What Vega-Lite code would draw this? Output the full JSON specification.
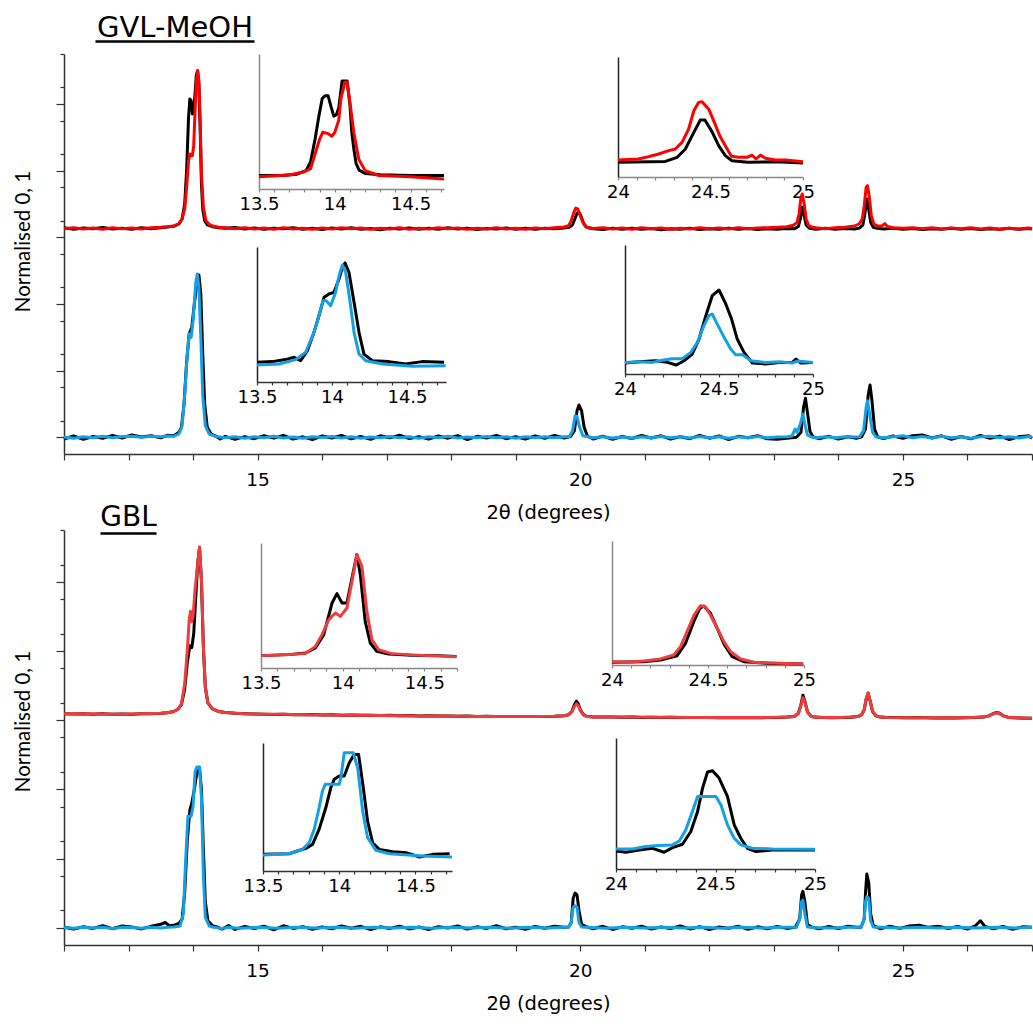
{
"$schema": "https://vega.github.io/schema/vega-lite/v6.json",
"background": "white",
"padding": {"left": 13, "top": 13, "right": 0, "bottom": 10},
"spacing": -19,
"config": {
 "view": {"stroke": null},
 "font": "DejaVu Sans",
 "line": {"strokeWidth": 3, "strokeJoin": "round"},
 "axis": {"grid": false, "domainColor": "#333", "tickColor": "#333", "labelColor": "#000", "titleColor": "#000", "titleFontWeight": "normal", "labelFlush": false, "labelOverlap": false, "domainWidth": 1.5, "tickWidth": 1.2}
},
"datasets": {
 "gA_k": [{"x":12.0,"y":1.258},{"x":12.15,"y":1.249},{"x":12.3,"y":1.256},{"x":12.45,"y":1.251},{"x":12.6,"y":1.259},{"x":12.75,"y":1.25},{"x":12.9,"y":1.255},{"x":13.05,"y":1.248},{"x":13.2,"y":1.257},{"x":13.35,"y":1.252},{"x":13.5,"y":1.258},{"x":13.6,"y":1.262},{"x":13.7,"y":1.266},{"x":13.78,"y":1.28},{"x":13.83,"y":1.31},{"x":13.87,"y":1.4},{"x":13.9,"y":1.6},{"x":13.93,"y":1.92},{"x":13.95,"y":2.03},{"x":13.97,"y":2.02},{"x":13.99,"y":1.94},{"x":14.01,"y":1.96},{"x":14.03,"y":2.06},{"x":14.05,"y":2.17},{"x":14.07,"y":2.2},{"x":14.09,"y":2.12},{"x":14.11,"y":1.85},{"x":14.13,"y":1.52},{"x":14.15,"y":1.37},{"x":14.18,"y":1.3},{"x":14.22,"y":1.275},{"x":14.3,"y":1.264},{"x":14.4,"y":1.258},{"x":14.5,"y":1.254},{"x":14.65,"y":1.259},{"x":14.8,"y":1.25},{"x":14.95,"y":1.256},{"x":15.1,"y":1.248},{"x":15.25,"y":1.255},{"x":15.4,"y":1.251},{"x":15.55,"y":1.258},{"x":15.7,"y":1.249},{"x":15.85,"y":1.254},{"x":16.0,"y":1.247},{"x":16.15,"y":1.256},{"x":16.3,"y":1.25},{"x":16.45,"y":1.257},{"x":16.6,"y":1.249},{"x":16.75,"y":1.253},{"x":16.9,"y":1.246},{"x":17.05,"y":1.255},{"x":17.2,"y":1.25},{"x":17.35,"y":1.256},{"x":17.5,"y":1.248},{"x":17.65,"y":1.254},{"x":17.8,"y":1.249},{"x":17.95,"y":1.257},{"x":18.1,"y":1.25},{"x":18.25,"y":1.255},{"x":18.4,"y":1.247},{"x":18.55,"y":1.253},{"x":18.7,"y":1.25},{"x":18.85,"y":1.256},{"x":19.0,"y":1.249},{"x":19.15,"y":1.254},{"x":19.3,"y":1.248},{"x":19.45,"y":1.255},{"x":19.6,"y":1.251},{"x":19.75,"y":1.256},{"x":19.83,"y":1.26},{"x":19.88,"y":1.275},{"x":19.92,"y":1.315},{"x":19.95,"y":1.345},{"x":19.98,"y":1.35},{"x":20.01,"y":1.33},{"x":20.05,"y":1.285},{"x":20.1,"y":1.26},{"x":20.2,"y":1.252},{"x":20.35,"y":1.247},{"x":20.5,"y":1.254},{"x":20.65,"y":1.249},{"x":20.8,"y":1.255},{"x":20.95,"y":1.248},{"x":21.1,"y":1.253},{"x":21.25,"y":1.246},{"x":21.4,"y":1.252},{"x":21.55,"y":1.249},{"x":21.7,"y":1.255},{"x":21.85,"y":1.247},{"x":22.0,"y":1.252},{"x":22.15,"y":1.248},{"x":22.3,"y":1.254},{"x":22.45,"y":1.249},{"x":22.6,"y":1.253},{"x":22.75,"y":1.247},{"x":22.9,"y":1.252},{"x":23.05,"y":1.248},{"x":23.2,"y":1.253},{"x":23.32,"y":1.252},{"x":23.38,"y":1.265},{"x":23.41,"y":1.31},{"x":23.44,"y":1.38},{"x":23.47,"y":1.33},{"x":23.5,"y":1.275},{"x":23.55,"y":1.255},{"x":23.65,"y":1.249},{"x":23.8,"y":1.254},{"x":23.95,"y":1.248},{"x":24.1,"y":1.253},{"x":24.25,"y":1.25},{"x":24.33,"y":1.256},{"x":24.38,"y":1.275},{"x":24.41,"y":1.34},{"x":24.44,"y":1.43},{"x":24.47,"y":1.37},{"x":24.5,"y":1.29},{"x":24.54,"y":1.26},{"x":24.6,"y":1.254},{"x":24.7,"y":1.25},{"x":24.85,"y":1.255},{"x":25.0,"y":1.248},{"x":25.15,"y":1.253},{"x":25.3,"y":1.247},{"x":25.45,"y":1.252},{"x":25.6,"y":1.249},{"x":25.75,"y":1.254},{"x":25.9,"y":1.248},{"x":26.05,"y":1.253},{"x":26.2,"y":1.247},{"x":26.35,"y":1.252},{"x":26.5,"y":1.249},{"x":26.65,"y":1.254},{"x":26.8,"y":1.248},{"x":26.95,"y":1.253},{"x":27.0,"y":1.25}],
 "gA_r": [{"x":12.0,"y":1.252},{"x":12.15,"y":1.258},{"x":12.3,"y":1.25},{"x":12.45,"y":1.256},{"x":12.6,"y":1.249},{"x":12.75,"y":1.257},{"x":12.9,"y":1.251},{"x":13.05,"y":1.256},{"x":13.2,"y":1.25},{"x":13.35,"y":1.258},{"x":13.5,"y":1.26},{"x":13.6,"y":1.263},{"x":13.7,"y":1.268},{"x":13.78,"y":1.283},{"x":13.83,"y":1.31},{"x":13.87,"y":1.37},{"x":13.9,"y":1.5},{"x":13.93,"y":1.66},{"x":13.95,"y":1.7},{"x":13.97,"y":1.69},{"x":13.99,"y":1.69},{"x":14.01,"y":1.75},{"x":14.03,"y":1.95},{"x":14.05,"y":2.13},{"x":14.07,"y":2.2},{"x":14.09,"y":2.14},{"x":14.11,"y":1.9},{"x":14.13,"y":1.58},{"x":14.16,"y":1.38},{"x":14.2,"y":1.3},{"x":14.25,"y":1.277},{"x":14.32,"y":1.266},{"x":14.4,"y":1.26},{"x":14.5,"y":1.257},{"x":14.65,"y":1.251},{"x":14.8,"y":1.258},{"x":14.95,"y":1.25},{"x":15.1,"y":1.256},{"x":15.25,"y":1.249},{"x":15.4,"y":1.257},{"x":15.55,"y":1.25},{"x":15.7,"y":1.255},{"x":15.85,"y":1.248},{"x":16.0,"y":1.256},{"x":16.15,"y":1.25},{"x":16.3,"y":1.257},{"x":16.45,"y":1.251},{"x":16.6,"y":1.256},{"x":16.75,"y":1.248},{"x":16.9,"y":1.255},{"x":17.05,"y":1.25},{"x":17.2,"y":1.257},{"x":17.35,"y":1.249},{"x":17.5,"y":1.255},{"x":17.65,"y":1.25},{"x":17.8,"y":1.257},{"x":17.95,"y":1.251},{"x":18.1,"y":1.256},{"x":18.25,"y":1.249},{"x":18.4,"y":1.255},{"x":18.55,"y":1.25},{"x":18.7,"y":1.257},{"x":18.85,"y":1.25},{"x":19.0,"y":1.255},{"x":19.15,"y":1.249},{"x":19.3,"y":1.256},{"x":19.45,"y":1.251},{"x":19.6,"y":1.257},{"x":19.75,"y":1.262},{"x":19.82,"y":1.27},{"x":19.86,"y":1.3},{"x":19.9,"y":1.35},{"x":19.93,"y":1.375},{"x":19.96,"y":1.37},{"x":20.0,"y":1.33},{"x":20.04,"y":1.29},{"x":20.08,"y":1.265},{"x":20.13,"y":1.257},{"x":20.2,"y":1.253},{"x":20.35,"y":1.258},{"x":20.5,"y":1.25},{"x":20.65,"y":1.256},{"x":20.8,"y":1.249},{"x":20.95,"y":1.257},{"x":21.1,"y":1.251},{"x":21.25,"y":1.256},{"x":21.4,"y":1.249},{"x":21.55,"y":1.255},{"x":21.7,"y":1.25},{"x":21.85,"y":1.257},{"x":22.0,"y":1.251},{"x":22.15,"y":1.256},{"x":22.3,"y":1.25},{"x":22.45,"y":1.257},{"x":22.6,"y":1.252},{"x":22.75,"y":1.256},{"x":22.9,"y":1.258},{"x":23.05,"y":1.26},{"x":23.2,"y":1.264},{"x":23.3,"y":1.272},{"x":23.36,"y":1.29},{"x":23.39,"y":1.34},{"x":23.42,"y":1.44},{"x":23.44,"y":1.46},{"x":23.47,"y":1.4},{"x":23.5,"y":1.31},{"x":23.54,"y":1.27},{"x":23.6,"y":1.26},{"x":23.65,"y":1.257},{"x":23.8,"y":1.252},{"x":23.95,"y":1.257},{"x":24.1,"y":1.26},{"x":24.25,"y":1.268},{"x":24.32,"y":1.28},{"x":24.37,"y":1.31},{"x":24.4,"y":1.39},{"x":24.43,"y":1.5},{"x":24.45,"y":1.51},{"x":24.48,"y":1.44},{"x":24.51,"y":1.33},{"x":24.55,"y":1.28},{"x":24.62,"y":1.266},{"x":24.68,"y":1.27},{"x":24.72,"y":1.282},{"x":24.76,"y":1.265},{"x":24.85,"y":1.258},{"x":25.0,"y":1.255},{"x":25.15,"y":1.258},{"x":25.3,"y":1.252},{"x":25.45,"y":1.257},{"x":25.6,"y":1.25},{"x":25.75,"y":1.256},{"x":25.9,"y":1.251},{"x":26.05,"y":1.257},{"x":26.2,"y":1.25},{"x":26.35,"y":1.256},{"x":26.5,"y":1.249},{"x":26.65,"y":1.255},{"x":26.8,"y":1.25},{"x":26.95,"y":1.256},{"x":27.0,"y":1.252}],
 "gB_k": [{"x":12.0,"y":-0.01},{"x":12.15,"y":0.008},{"x":12.3,"y":-0.012},{"x":12.45,"y":0.005},{"x":12.6,"y":-0.006},{"x":12.75,"y":0.012},{"x":12.9,"y":-0.004},{"x":13.05,"y":0.014},{"x":13.2,"y":0.002},{"x":13.35,"y":0.01},{"x":13.5,"y":-0.003},{"x":13.6,"y":0.012},{"x":13.7,"y":0.01},{"x":13.78,"y":0.03},{"x":13.82,"y":0.06},{"x":13.86,"y":0.2},{"x":13.9,"y":0.45},{"x":13.94,"y":0.62},{"x":13.98,"y":0.66},{"x":14.02,"y":0.8},{"x":14.06,"y":0.93},{"x":14.09,"y":0.975},{"x":14.12,"y":0.86},{"x":14.15,"y":0.5},{"x":14.18,"y":0.2},{"x":14.22,"y":0.06},{"x":14.28,"y":0.02},{"x":14.35,"y":0.008},{"x":14.42,"y":-0.01},{"x":14.5,"y":0.006},{"x":14.65,"y":-0.012},{"x":14.8,"y":0.004},{"x":14.95,"y":-0.008},{"x":15.1,"y":0.01},{"x":15.25,"y":-0.005},{"x":15.4,"y":0.012},{"x":15.55,"y":-0.01},{"x":15.7,"y":0.003},{"x":15.85,"y":-0.014},{"x":16.0,"y":0.008},{"x":16.15,"y":-0.004},{"x":16.3,"y":0.011},{"x":16.45,"y":-0.009},{"x":16.6,"y":0.005},{"x":16.75,"y":-0.012},{"x":16.9,"y":0.009},{"x":17.05,"y":-0.003},{"x":17.2,"y":0.013},{"x":17.35,"y":-0.007},{"x":17.5,"y":0.004},{"x":17.65,"y":-0.011},{"x":17.8,"y":0.008},{"x":17.95,"y":-0.005},{"x":18.1,"y":0.01},{"x":18.25,"y":-0.013},{"x":18.4,"y":0.006},{"x":18.55,"y":-0.004},{"x":18.7,"y":0.012},{"x":18.85,"y":-0.008},{"x":19.0,"y":0.003},{"x":19.15,"y":-0.01},{"x":19.3,"y":0.009},{"x":19.45,"y":-0.006},{"x":19.6,"y":0.011},{"x":19.75,"y":-0.004},{"x":19.85,"y":0.005},{"x":19.91,"y":0.04},{"x":19.95,"y":0.16},{"x":19.98,"y":0.194},{"x":20.02,"y":0.16},{"x":20.06,"y":0.06},{"x":20.11,"y":0.008},{"x":20.2,"y":-0.01},{"x":20.35,"y":0.007},{"x":20.5,"y":-0.012},{"x":20.65,"y":0.005},{"x":20.8,"y":-0.007},{"x":20.95,"y":0.011},{"x":21.1,"y":-0.004},{"x":21.25,"y":0.009},{"x":21.4,"y":-0.011},{"x":21.55,"y":0.004},{"x":21.7,"y":-0.008},{"x":21.85,"y":0.012},{"x":22.0,"y":-0.005},{"x":22.15,"y":0.008},{"x":22.3,"y":-0.013},{"x":22.45,"y":0.006},{"x":22.6,"y":-0.003},{"x":22.75,"y":0.01},{"x":22.9,"y":-0.009},{"x":23.05,"y":-0.012},{"x":23.2,"y":-0.006},{"x":23.35,"y":0.0},{"x":23.42,"y":0.03},{"x":23.46,"y":0.18},{"x":23.49,"y":0.234},{"x":23.52,"y":0.15},{"x":23.56,"y":0.035},{"x":23.61,"y":0.002},{"x":23.7,"y":-0.008},{"x":23.85,"y":0.006},{"x":24.0,"y":-0.01},{"x":24.15,"y":0.004},{"x":24.28,"y":-0.006},{"x":24.36,"y":0.003},{"x":24.42,"y":0.05},{"x":24.46,"y":0.25},{"x":24.49,"y":0.314},{"x":24.52,"y":0.22},{"x":24.56,"y":0.05},{"x":24.61,"y":0.002},{"x":24.7,"y":-0.007},{"x":24.85,"y":0.008},{"x":25.0,"y":-0.006},{"x":25.15,"y":0.01},{"x":25.3,"y":0.014},{"x":25.45,"y":-0.004},{"x":25.6,"y":0.009},{"x":25.75,"y":-0.012},{"x":25.9,"y":0.005},{"x":26.05,"y":-0.009},{"x":26.2,"y":0.011},{"x":26.35,"y":-0.006},{"x":26.5,"y":0.007},{"x":26.65,"y":-0.013},{"x":26.8,"y":0.004},{"x":26.95,"y":0.009},{"x":27.0,"y":-0.005}],
 "gB_b": [{"x":12.0,"y":0.002},{"x":12.15,"y":-0.005},{"x":12.3,"y":0.004},{"x":12.45,"y":-0.003},{"x":12.6,"y":0.006},{"x":12.75,"y":-0.002},{"x":12.9,"y":0.005},{"x":13.05,"y":0.007},{"x":13.2,"y":0.001},{"x":13.35,"y":0.006},{"x":13.5,"y":0.003},{"x":13.6,"y":0.008},{"x":13.7,"y":0.006},{"x":13.78,"y":0.02},{"x":13.83,"y":0.07},{"x":13.87,"y":0.25},{"x":13.91,"y":0.5},{"x":13.94,"y":0.62},{"x":13.97,"y":0.6},{"x":14.0,"y":0.7},{"x":14.04,"y":0.92},{"x":14.065,"y":0.98},{"x":14.09,"y":0.9},{"x":14.12,"y":0.6},{"x":14.15,"y":0.25},{"x":14.19,"y":0.07},{"x":14.25,"y":0.02},{"x":14.35,"y":0.005},{"x":14.5,"y":-0.003},{"x":14.65,"y":0.004},{"x":14.8,"y":-0.005},{"x":14.95,"y":0.003},{"x":15.1,"y":-0.002},{"x":15.25,"y":0.006},{"x":15.4,"y":-0.004},{"x":15.55,"y":0.002},{"x":15.7,"y":-0.006},{"x":15.85,"y":0.004},{"x":16.0,"y":-0.001},{"x":16.15,"y":0.005},{"x":16.3,"y":-0.004},{"x":16.45,"y":0.003},{"x":16.6,"y":-0.005},{"x":16.75,"y":0.002},{"x":16.9,"y":-0.003},{"x":17.05,"y":0.005},{"x":17.2,"y":-0.002},{"x":17.35,"y":0.004},{"x":17.5,"y":-0.005},{"x":17.65,"y":0.003},{"x":17.8,"y":-0.002},{"x":17.95,"y":0.006},{"x":18.1,"y":-0.004},{"x":18.25,"y":0.002},{"x":18.4,"y":-0.003},{"x":18.55,"y":0.005},{"x":18.7,"y":-0.002},{"x":18.85,"y":0.004},{"x":19.0,"y":-0.005},{"x":19.15,"y":0.003},{"x":19.3,"y":-0.002},{"x":19.45,"y":0.004},{"x":19.6,"y":-0.003},{"x":19.75,"y":0.003},{"x":19.83,"y":0.004},{"x":19.88,"y":0.04},{"x":19.92,"y":0.13},{"x":19.95,"y":0.125},{"x":19.99,"y":0.06},{"x":20.04,"y":0.01},{"x":20.2,"y":-0.003},{"x":20.35,"y":0.004},{"x":20.5,"y":-0.004},{"x":20.65,"y":0.002},{"x":20.8,"y":-0.005},{"x":20.95,"y":0.004},{"x":21.1,"y":-0.002},{"x":21.25,"y":0.005},{"x":21.4,"y":-0.003},{"x":21.55,"y":0.003},{"x":21.7,"y":-0.004},{"x":21.85,"y":0.005},{"x":22.0,"y":-0.002},{"x":22.15,"y":0.004},{"x":22.3,"y":-0.005},{"x":22.45,"y":0.003},{"x":22.6,"y":-0.002},{"x":22.75,"y":0.005},{"x":22.9,"y":-0.003},{"x":23.05,"y":0.002},{"x":23.2,"y":0.004},{"x":23.28,"y":0.008},{"x":23.33,"y":0.05},{"x":23.36,"y":0.03},{"x":23.41,"y":0.08},{"x":23.45,"y":0.14},{"x":23.48,"y":0.08},{"x":23.52,"y":0.015},{"x":23.58,"y":0.002},{"x":23.65,"y":-0.003},{"x":23.8,"y":0.004},{"x":23.95,"y":-0.002},{"x":24.1,"y":0.003},{"x":24.25,"y":0.002},{"x":24.33,"y":0.004},{"x":24.39,"y":0.04},{"x":24.43,"y":0.18},{"x":24.45,"y":0.22},{"x":24.48,"y":0.15},{"x":24.53,"y":0.03},{"x":24.58,"y":0.004},{"x":24.7,"y":-0.003},{"x":24.85,"y":0.004},{"x":25.0,"y":0.009},{"x":25.15,"y":-0.002},{"x":25.3,"y":0.005},{"x":25.45,"y":-0.004},{"x":25.6,"y":0.006},{"x":25.75,"y":-0.003},{"x":25.9,"y":0.004},{"x":26.05,"y":-0.005},{"x":26.2,"y":0.003},{"x":26.35,"y":0.007},{"x":26.5,"y":-0.002},{"x":26.65,"y":0.004},{"x":26.8,"y":-0.004},{"x":26.95,"y":0.005},{"x":27.0,"y":0.002}],
 "bA_k": [{"x":12.0,"y":1.238},{"x":12.15,"y":1.236},{"x":12.3,"y":1.238},{"x":12.45,"y":1.235},{"x":12.6,"y":1.237},{"x":12.75,"y":1.234},{"x":12.9,"y":1.236},{"x":13.05,"y":1.235},{"x":13.2,"y":1.237},{"x":13.35,"y":1.238},{"x":13.5,"y":1.24},{"x":13.6,"y":1.243},{"x":13.7,"y":1.25},{"x":13.77,"y":1.265},{"x":13.82,"y":1.29},{"x":13.87,"y":1.38},{"x":13.91,"y":1.53},{"x":13.95,"y":1.63},{"x":13.98,"y":1.62},{"x":14.01,"y":1.7},{"x":14.04,"y":1.9},{"x":14.07,"y":2.1},{"x":14.1,"y":2.2},{"x":14.13,"y":2.0},{"x":14.16,"y":1.62},{"x":14.19,"y":1.39},{"x":14.23,"y":1.3},{"x":14.3,"y":1.265},{"x":14.4,"y":1.25},{"x":14.5,"y":1.244},{"x":14.65,"y":1.24},{"x":14.8,"y":1.238},{"x":14.95,"y":1.236},{"x":15.1,"y":1.235},{"x":15.25,"y":1.233},{"x":15.4,"y":1.234},{"x":15.55,"y":1.232},{"x":15.7,"y":1.231},{"x":15.85,"y":1.233},{"x":16.0,"y":1.23},{"x":16.15,"y":1.231},{"x":16.3,"y":1.229},{"x":16.45,"y":1.23},{"x":16.6,"y":1.228},{"x":16.75,"y":1.229},{"x":16.9,"y":1.227},{"x":17.05,"y":1.228},{"x":17.2,"y":1.226},{"x":17.35,"y":1.227},{"x":17.5,"y":1.225},{"x":17.65,"y":1.226},{"x":17.8,"y":1.224},{"x":17.95,"y":1.225},{"x":18.1,"y":1.223},{"x":18.25,"y":1.224},{"x":18.4,"y":1.222},{"x":18.55,"y":1.223},{"x":18.7,"y":1.221},{"x":18.85,"y":1.222},{"x":19.0,"y":1.221},{"x":19.15,"y":1.222},{"x":19.3,"y":1.221},{"x":19.45,"y":1.222},{"x":19.6,"y":1.223},{"x":19.75,"y":1.226},{"x":19.82,"y":1.232},{"x":19.87,"y":1.25},{"x":19.91,"y":1.29},{"x":19.94,"y":1.31},{"x":19.97,"y":1.295},{"x":20.0,"y":1.26},{"x":20.05,"y":1.232},{"x":20.1,"y":1.223},{"x":20.2,"y":1.219},{"x":20.35,"y":1.218},{"x":20.5,"y":1.219},{"x":20.65,"y":1.217},{"x":20.8,"y":1.218},{"x":20.95,"y":1.216},{"x":21.1,"y":1.217},{"x":21.25,"y":1.216},{"x":21.4,"y":1.217},{"x":21.55,"y":1.215},{"x":21.7,"y":1.216},{"x":21.85,"y":1.215},{"x":22.0,"y":1.216},{"x":22.15,"y":1.214},{"x":22.3,"y":1.215},{"x":22.45,"y":1.214},{"x":22.6,"y":1.215},{"x":22.75,"y":1.214},{"x":22.9,"y":1.215},{"x":23.05,"y":1.216},{"x":23.2,"y":1.218},{"x":23.32,"y":1.222},{"x":23.38,"y":1.24},{"x":23.42,"y":1.29},{"x":23.45,"y":1.344},{"x":23.48,"y":1.31},{"x":23.52,"y":1.25},{"x":23.57,"y":1.225},{"x":23.62,"y":1.218},{"x":23.75,"y":1.215},{"x":23.9,"y":1.214},{"x":24.05,"y":1.215},{"x":24.2,"y":1.217},{"x":24.3,"y":1.221},{"x":24.36,"y":1.232},{"x":24.4,"y":1.26},{"x":24.43,"y":1.32},{"x":24.46,"y":1.357},{"x":24.49,"y":1.315},{"x":24.53,"y":1.25},{"x":24.58,"y":1.225},{"x":24.65,"y":1.218},{"x":24.75,"y":1.216},{"x":24.9,"y":1.215},{"x":25.05,"y":1.214},{"x":25.2,"y":1.215},{"x":25.35,"y":1.214},{"x":25.5,"y":1.213},{"x":25.65,"y":1.214},{"x":25.8,"y":1.213},{"x":25.95,"y":1.214},{"x":26.1,"y":1.215},{"x":26.25,"y":1.218},{"x":26.33,"y":1.225},{"x":26.4,"y":1.238},{"x":26.45,"y":1.245},{"x":26.5,"y":1.24},{"x":26.56,"y":1.225},{"x":26.65,"y":1.215},{"x":26.8,"y":1.213},{"x":26.95,"y":1.212},{"x":27.0,"y":1.212}],
 "bA_r": [{"x":12.0,"y":1.238},{"x":12.3,"y":1.237},{"x":12.6,"y":1.236},{"x":12.9,"y":1.235},{"x":13.2,"y":1.237},{"x":13.5,"y":1.24},{"x":13.6,"y":1.243},{"x":13.7,"y":1.25},{"x":13.77,"y":1.265},{"x":13.82,"y":1.295},{"x":13.87,"y":1.41},{"x":13.91,"y":1.6},{"x":13.94,"y":1.78},{"x":13.96,"y":1.83},{"x":13.98,"y":1.77},{"x":14.0,"y":1.8},{"x":14.03,"y":1.95},{"x":14.07,"y":2.1},{"x":14.1,"y":2.2},{"x":14.13,"y":2.02},{"x":14.16,"y":1.63},{"x":14.19,"y":1.39},{"x":14.23,"y":1.3},{"x":14.3,"y":1.265},{"x":14.4,"y":1.25},{"x":14.5,"y":1.244},{"x":14.8,"y":1.238},{"x":15.1,"y":1.235},{"x":15.4,"y":1.234},{"x":15.7,"y":1.231},{"x":16.0,"y":1.23},{"x":16.3,"y":1.229},{"x":16.6,"y":1.228},{"x":16.9,"y":1.227},{"x":17.2,"y":1.226},{"x":17.5,"y":1.225},{"x":17.8,"y":1.224},{"x":18.1,"y":1.223},{"x":18.4,"y":1.222},{"x":18.7,"y":1.221},{"x":19.0,"y":1.221},{"x":19.3,"y":1.221},{"x":19.6,"y":1.223},{"x":19.75,"y":1.226},{"x":19.82,"y":1.232},{"x":19.87,"y":1.25},{"x":19.91,"y":1.28},{"x":19.94,"y":1.295},{"x":19.97,"y":1.285},{"x":20.0,"y":1.255},{"x":20.05,"y":1.23},{"x":20.1,"y":1.222},{"x":20.2,"y":1.219},{"x":20.5,"y":1.218},{"x":20.8,"y":1.218},{"x":21.1,"y":1.217},{"x":21.4,"y":1.217},{"x":21.7,"y":1.216},{"x":22.0,"y":1.216},{"x":22.3,"y":1.215},{"x":22.6,"y":1.215},{"x":22.9,"y":1.215},{"x":23.2,"y":1.218},{"x":23.32,"y":1.222},{"x":23.38,"y":1.24},{"x":23.42,"y":1.285},{"x":23.45,"y":1.33},{"x":23.48,"y":1.305},{"x":23.52,"y":1.25},{"x":23.57,"y":1.225},{"x":23.62,"y":1.218},{"x":23.75,"y":1.215},{"x":24.05,"y":1.215},{"x":24.3,"y":1.221},{"x":24.36,"y":1.232},{"x":24.4,"y":1.262},{"x":24.43,"y":1.325},{"x":24.46,"y":1.357},{"x":24.49,"y":1.315},{"x":24.53,"y":1.252},{"x":24.58,"y":1.226},{"x":24.65,"y":1.218},{"x":24.75,"y":1.216},{"x":25.05,"y":1.214},{"x":25.35,"y":1.214},{"x":25.65,"y":1.214},{"x":25.95,"y":1.214},{"x":26.25,"y":1.218},{"x":26.33,"y":1.225},{"x":26.4,"y":1.236},{"x":26.45,"y":1.243},{"x":26.5,"y":1.238},{"x":26.56,"y":1.224},{"x":26.65,"y":1.215},{"x":26.95,"y":1.212},{"x":27.0,"y":1.212}],
 "bB_k": [{"x":12.0,"y":0.003},{"x":12.15,"y":-0.008},{"x":12.3,"y":0.006},{"x":12.45,"y":-0.004},{"x":12.6,"y":0.012},{"x":12.75,"y":-0.006},{"x":12.9,"y":0.01},{"x":13.05,"y":0.004},{"x":13.2,"y":-0.007},{"x":13.35,"y":0.008},{"x":13.5,"y":0.02},{"x":13.57,"y":0.03},{"x":13.63,"y":0.012},{"x":13.7,"y":0.014},{"x":13.78,"y":0.025},{"x":13.83,"y":0.05},{"x":13.87,"y":0.2},{"x":13.91,"y":0.5},{"x":13.95,"y":0.68},{"x":13.98,"y":0.72},{"x":14.02,"y":0.8},{"x":14.06,"y":0.9},{"x":14.1,"y":0.92},{"x":14.13,"y":0.8},{"x":14.16,"y":0.45},{"x":14.19,"y":0.15},{"x":14.23,"y":0.04},{"x":14.3,"y":0.012},{"x":14.37,"y":0.005},{"x":14.45,"y":-0.008},{"x":14.55,"y":0.012},{"x":14.65,"y":-0.01},{"x":14.8,"y":0.007},{"x":14.95,"y":-0.005},{"x":15.1,"y":0.009},{"x":15.25,"y":-0.012},{"x":15.4,"y":0.011},{"x":15.55,"y":-0.004},{"x":15.7,"y":0.006},{"x":15.85,"y":-0.009},{"x":16.0,"y":0.004},{"x":16.15,"y":-0.006},{"x":16.3,"y":0.01},{"x":16.45,"y":-0.003},{"x":16.6,"y":0.008},{"x":16.75,"y":-0.011},{"x":16.9,"y":0.005},{"x":17.05,"y":-0.004},{"x":17.2,"y":0.009},{"x":17.35,"y":-0.007},{"x":17.5,"y":0.004},{"x":17.65,"y":-0.01},{"x":17.8,"y":0.006},{"x":17.95,"y":-0.002},{"x":18.1,"y":0.01},{"x":18.25,"y":-0.008},{"x":18.4,"y":0.005},{"x":18.55,"y":-0.004},{"x":18.7,"y":0.011},{"x":18.85,"y":-0.006},{"x":19.0,"y":0.003},{"x":19.15,"y":-0.009},{"x":19.3,"y":0.007},{"x":19.45,"y":-0.003},{"x":19.6,"y":0.009},{"x":19.75,"y":0.002},{"x":19.82,"y":0.004},{"x":19.86,"y":0.03},{"x":19.89,"y":0.17},{"x":19.92,"y":0.2},{"x":19.95,"y":0.19},{"x":19.98,"y":0.1},{"x":20.02,"y":0.02},{"x":20.08,"y":0.008},{"x":20.2,"y":-0.006},{"x":20.35,"y":0.008},{"x":20.5,"y":-0.01},{"x":20.65,"y":0.005},{"x":20.8,"y":-0.003},{"x":20.95,"y":0.009},{"x":21.1,"y":-0.008},{"x":21.25,"y":0.004},{"x":21.4,"y":-0.005},{"x":21.55,"y":0.01},{"x":21.7,"y":-0.007},{"x":21.85,"y":0.006},{"x":22.0,"y":-0.011},{"x":22.15,"y":0.004},{"x":22.3,"y":-0.003},{"x":22.45,"y":0.008},{"x":22.6,"y":-0.009},{"x":22.75,"y":0.005},{"x":22.9,"y":-0.006},{"x":23.05,"y":0.007},{"x":23.2,"y":-0.004},{"x":23.33,"y":0.002},{"x":23.4,"y":0.05},{"x":23.43,"y":0.19},{"x":23.45,"y":0.21},{"x":23.48,"y":0.15},{"x":23.52,"y":0.02},{"x":23.58,"y":0.004},{"x":23.7,"y":-0.006},{"x":23.85,"y":0.007},{"x":24.0,"y":-0.005},{"x":24.15,"y":0.008},{"x":24.28,"y":0.002},{"x":24.35,"y":0.003},{"x":24.4,"y":0.05},{"x":24.42,"y":0.2},{"x":24.44,"y":0.31},{"x":24.47,"y":0.26},{"x":24.5,"y":0.08},{"x":24.54,"y":0.012},{"x":24.65,"y":-0.006},{"x":24.8,"y":0.008},{"x":24.95,"y":-0.004},{"x":25.1,"y":0.01},{"x":25.25,"y":0.014},{"x":25.4,"y":0.002},{"x":25.55,"y":0.009},{"x":25.7,"y":-0.005},{"x":25.85,"y":0.007},{"x":26.0,"y":-0.008},{"x":26.12,"y":0.01},{"x":26.2,"y":0.04},{"x":26.27,"y":0.008},{"x":26.4,"y":-0.006},{"x":26.55,"y":0.007},{"x":26.7,"y":-0.009},{"x":26.85,"y":0.005},{"x":27.0,"y":0.003}],
 "bB_b": [{"x":12.0,"y":0.001},{"x":12.15,"y":-0.003},{"x":12.3,"y":0.002},{"x":12.45,"y":-0.002},{"x":12.6,"y":0.003},{"x":12.75,"y":-0.004},{"x":12.9,"y":0.002},{"x":13.05,"y":0.001},{"x":13.2,"y":-0.003},{"x":13.35,"y":0.002},{"x":13.5,"y":-0.002},{"x":13.6,"y":0.002},{"x":13.7,"y":0.004},{"x":13.8,"y":0.01},{"x":13.85,"y":0.08},{"x":13.88,"y":0.35},{"x":13.92,"y":0.645},{"x":13.97,"y":0.645},{"x":14.0,"y":0.7},{"x":14.03,"y":0.9},{"x":14.06,"y":0.93},{"x":14.1,"y":0.93},{"x":14.13,"y":0.75},{"x":14.16,"y":0.3},{"x":14.19,"y":0.06},{"x":14.25,"y":0.01},{"x":14.32,"y":0.002},{"x":14.45,"y":-0.004},{"x":14.55,"y":0.003},{"x":14.7,"y":-0.003},{"x":15.0,"y":0.002},{"x":15.3,"y":-0.003},{"x":15.6,"y":0.002},{"x":15.9,"y":-0.002},{"x":16.2,"y":0.003},{"x":16.5,"y":-0.003},{"x":16.8,"y":0.002},{"x":17.1,"y":-0.002},{"x":17.4,"y":0.003},{"x":17.7,"y":-0.003},{"x":18.0,"y":0.002},{"x":18.3,"y":-0.002},{"x":18.6,"y":0.003},{"x":18.9,"y":-0.003},{"x":19.2,"y":0.002},{"x":19.5,"y":-0.002},{"x":19.75,"y":0.003},{"x":19.82,"y":0.004},{"x":19.86,"y":0.03},{"x":19.89,"y":0.12},{"x":19.92,"y":0.127},{"x":19.95,"y":0.12},{"x":19.98,"y":0.03},{"x":20.02,"y":0.004},{"x":20.1,"y":0.002},{"x":20.4,"y":-0.003},{"x":20.7,"y":0.002},{"x":21.0,"y":-0.002},{"x":21.3,"y":0.003},{"x":21.6,"y":-0.002},{"x":21.9,"y":0.002},{"x":22.2,"y":-0.003},{"x":22.5,"y":0.002},{"x":22.8,"y":-0.002},{"x":23.1,"y":0.002},{"x":23.35,"y":0.002},{"x":23.4,"y":0.05},{"x":23.43,"y":0.15},{"x":23.45,"y":0.16},{"x":23.48,"y":0.08},{"x":23.52,"y":0.004},{"x":23.6,"y":0.001},{"x":23.9,"y":-0.002},{"x":24.2,"y":0.002},{"x":24.35,"y":0.002},{"x":24.4,"y":0.05},{"x":24.42,"y":0.15},{"x":24.44,"y":0.18},{"x":24.47,"y":0.17},{"x":24.5,"y":0.04},{"x":24.54,"y":0.004},{"x":24.65,"y":0.002},{"x":24.95,"y":-0.002},{"x":25.25,"y":0.003},{"x":25.55,"y":-0.002},{"x":25.85,"y":0.002},{"x":26.15,"y":-0.002},{"x":26.45,"y":0.003},{"x":26.75,"y":-0.002},{"x":27.0,"y":0.002}],
 "gUL_k": [{"x":13.5,"y":0.1},{"x":13.65,"y":0.1},{"x":13.75,"y":0.11},{"x":13.81,"y":0.136},{"x":13.84,"y":0.2},{"x":13.87,"y":0.37},{"x":13.895,"y":0.54},{"x":13.917,"y":0.67},{"x":13.935,"y":0.69},{"x":13.956,"y":0.69},{"x":13.975,"y":0.61},{"x":13.993,"y":0.54},{"x":14.01,"y":0.55},{"x":14.026,"y":0.6},{"x":14.048,"y":0.8},{"x":14.081,"y":0.8},{"x":14.1,"y":0.62},{"x":14.112,"y":0.42},{"x":14.125,"y":0.3},{"x":14.14,"y":0.19},{"x":14.16,"y":0.14},{"x":14.2,"y":0.115},{"x":14.3,"y":0.105},{"x":14.5,"y":0.1},{"x":14.72,"y":0.1}],
 "gUL_r": [{"x":13.5,"y":0.09},{"x":13.7,"y":0.104},{"x":13.8,"y":0.128},{"x":13.84,"y":0.15},{"x":13.87,"y":0.26},{"x":13.9,"y":0.37},{"x":13.92,"y":0.42},{"x":13.956,"y":0.41},{"x":13.98,"y":0.39},{"x":14.0,"y":0.42},{"x":14.026,"y":0.51},{"x":14.04,"y":0.67},{"x":14.066,"y":0.79},{"x":14.081,"y":0.79},{"x":14.1,"y":0.64},{"x":14.125,"y":0.42},{"x":14.158,"y":0.22},{"x":14.2,"y":0.136},{"x":14.29,"y":0.1},{"x":14.5,"y":0.09},{"x":14.72,"y":0.074}],
 "gUR_k": [{"x":24.0,"y":0.122},{"x":24.256,"y":0.13},{"x":24.32,"y":0.164},{"x":24.364,"y":0.233},{"x":24.41,"y":0.372},{"x":24.445,"y":0.475},{"x":24.47,"y":0.475},{"x":24.51,"y":0.372},{"x":24.544,"y":0.261},{"x":24.58,"y":0.178},{"x":24.616,"y":0.136},{"x":24.7,"y":0.122},{"x":24.85,"y":0.128},{"x":25.0,"y":0.117}],
 "gUR_r": [{"x":24.0,"y":0.142},{"x":24.11,"y":0.15},{"x":24.166,"y":0.17},{"x":24.22,"y":0.192},{"x":24.274,"y":0.22},{"x":24.31,"y":0.233},{"x":24.346,"y":0.289},{"x":24.382,"y":0.4},{"x":24.41,"y":0.553},{"x":24.436,"y":0.622},{"x":24.454,"y":0.628},{"x":24.49,"y":0.567},{"x":24.517,"y":0.47},{"x":24.55,"y":0.344},{"x":24.59,"y":0.233},{"x":24.613,"y":0.172},{"x":24.652,"y":0.164},{"x":24.697,"y":0.164},{"x":24.724,"y":0.183},{"x":24.746,"y":0.15},{"x":24.77,"y":0.183},{"x":24.797,"y":0.156},{"x":24.85,"y":0.142},{"x":24.905,"y":0.142},{"x":25.0,"y":0.128}],
 "gLL_k": [{"x":13.5,"y":0.146},{"x":13.602,"y":0.151},{"x":13.69,"y":0.166},{"x":13.747,"y":0.183},{"x":13.791,"y":0.158},{"x":13.836,"y":0.232},{"x":13.88,"y":0.368},{"x":13.913,"y":0.491},{"x":13.947,"y":0.627},{"x":13.98,"y":0.652},{"x":14.013,"y":0.664},{"x":14.047,"y":0.763},{"x":14.069,"y":0.85},{"x":14.087,"y":0.882},{"x":14.113,"y":0.813},{"x":14.147,"y":0.59},{"x":14.18,"y":0.368},{"x":14.213,"y":0.207},{"x":14.269,"y":0.158},{"x":14.38,"y":0.151},{"x":14.49,"y":0.133},{"x":14.6,"y":0.151},{"x":14.747,"y":0.146}],
 "gLL_b": [{"x":13.5,"y":0.126},{"x":13.647,"y":0.133},{"x":13.758,"y":0.166},{"x":13.824,"y":0.22},{"x":13.88,"y":0.368},{"x":13.913,"y":0.491},{"x":13.94,"y":0.602},{"x":13.962,"y":0.602},{"x":13.991,"y":0.565},{"x":14.024,"y":0.664},{"x":14.047,"y":0.788},{"x":14.069,"y":0.867},{"x":14.091,"y":0.813},{"x":14.118,"y":0.615},{"x":14.147,"y":0.368},{"x":14.18,"y":0.207},{"x":14.224,"y":0.158},{"x":14.336,"y":0.133},{"x":14.536,"y":0.116},{"x":14.758,"y":0.121}],
 "gLR_k": [{"x":24.0,"y":0.085},{"x":24.074,"y":0.095},{"x":24.163,"y":0.103},{"x":24.225,"y":0.09},{"x":24.273,"y":0.07},{"x":24.314,"y":0.103},{"x":24.358,"y":0.155},{"x":24.394,"y":0.271},{"x":24.43,"y":0.452},{"x":24.464,"y":0.607},{"x":24.5,"y":0.651},{"x":24.536,"y":0.543},{"x":24.567,"y":0.426},{"x":24.597,"y":0.271},{"x":24.633,"y":0.168},{"x":24.677,"y":0.085},{"x":24.748,"y":0.078},{"x":24.82,"y":0.09},{"x":24.89,"y":0.09},{"x":24.91,"y":0.116},{"x":24.935,"y":0.085},{"x":25.0,"y":0.09}],
 "gLR_b": [{"x":24.0,"y":0.09},{"x":24.074,"y":0.095},{"x":24.145,"y":0.09},{"x":24.207,"y":0.109},{"x":24.25,"y":0.119},{"x":24.305,"y":0.119},{"x":24.35,"y":0.168},{"x":24.385,"y":0.245},{"x":24.42,"y":0.375},{"x":24.447,"y":0.452},{"x":24.464,"y":0.465},{"x":24.49,"y":0.388},{"x":24.527,"y":0.284},{"x":24.562,"y":0.194},{"x":24.589,"y":0.15},{"x":24.624,"y":0.15},{"x":24.669,"y":0.103},{"x":24.748,"y":0.09},{"x":24.82,"y":0.095},{"x":24.89,"y":0.085},{"x":24.916,"y":0.1},{"x":25.0,"y":0.09}],
 "bUL_k": [{"x":13.5,"y":0.099},{"x":13.67,"y":0.107},{"x":13.773,"y":0.12},{"x":13.833,"y":0.16},{"x":13.884,"y":0.267},{"x":13.919,"y":0.44},{"x":13.935,"y":0.52},{"x":13.965,"y":0.595},{"x":13.996,"y":0.52},{"x":14.026,"y":0.52},{"x":14.057,"y":0.72},{"x":14.087,"y":0.907},{"x":14.108,"y":0.747},{"x":14.138,"y":0.373},{"x":14.169,"y":0.2},{"x":14.209,"y":0.133},{"x":14.28,"y":0.112},{"x":14.423,"y":0.101},{"x":14.585,"y":0.099},{"x":14.697,"y":0.093}],
 "bUL_r": [{"x":13.5,"y":0.099},{"x":13.67,"y":0.107},{"x":13.773,"y":0.117},{"x":13.833,"y":0.173},{"x":13.874,"y":0.267},{"x":13.915,"y":0.387},{"x":13.955,"y":0.44},{"x":13.986,"y":0.413},{"x":14.026,"y":0.48},{"x":14.057,"y":0.693},{"x":14.087,"y":0.907},{"x":14.118,"y":0.813},{"x":14.148,"y":0.453},{"x":14.179,"y":0.227},{"x":14.22,"y":0.147},{"x":14.3,"y":0.115},{"x":14.484,"y":0.101},{"x":14.697,"y":0.09}],
 "bUR_k": [{"x":24.0,"y":0.022},{"x":24.165,"y":0.027},{"x":24.252,"y":0.04},{"x":24.339,"y":0.075},{"x":24.383,"y":0.175},{"x":24.426,"y":0.35},{"x":24.457,"y":0.457},{"x":24.478,"y":0.476},{"x":24.513,"y":0.417},{"x":24.548,"y":0.296},{"x":24.586,"y":0.161},{"x":24.626,"y":0.067},{"x":24.687,"y":0.027},{"x":24.809,"y":0.014},{"x":24.996,"y":0.008}],
 "bUR_r": [{"x":24.0,"y":0.027},{"x":24.078,"y":0.022},{"x":24.165,"y":0.033},{"x":24.252,"y":0.049},{"x":24.322,"y":0.081},{"x":24.357,"y":0.148},{"x":24.391,"y":0.269},{"x":24.426,"y":0.398},{"x":24.461,"y":0.479},{"x":24.487,"y":0.468},{"x":24.513,"y":0.403},{"x":24.548,"y":0.296},{"x":24.583,"y":0.188},{"x":24.618,"y":0.107},{"x":24.67,"y":0.049},{"x":24.739,"y":0.022},{"x":24.878,"y":0.014},{"x":24.996,"y":0.006}],
 "bLL_k": [{"x":13.5,"y":0.13},{"x":13.671,"y":0.135},{"x":13.726,"y":0.156},{"x":13.781,"y":0.177},{"x":13.825,"y":0.208},{"x":13.868,"y":0.325},{"x":13.912,"y":0.494},{"x":13.945,"y":0.651},{"x":13.967,"y":0.716},{"x":14.0,"y":0.742},{"x":14.033,"y":0.742},{"x":14.066,"y":0.846},{"x":14.099,"y":0.911},{"x":14.127,"y":0.911},{"x":14.158,"y":0.651},{"x":14.186,"y":0.39},{"x":14.219,"y":0.221},{"x":14.263,"y":0.169},{"x":14.351,"y":0.151},{"x":14.439,"y":0.143},{"x":14.526,"y":0.109},{"x":14.614,"y":0.13},{"x":14.724,"y":0.135}],
 "bLL_b": [{"x":13.5,"y":0.125},{"x":13.671,"y":0.135},{"x":13.759,"y":0.169},{"x":13.803,"y":0.221},{"x":13.836,"y":0.325},{"x":13.868,"y":0.494},{"x":13.89,"y":0.625},{"x":13.908,"y":0.677},{"x":14.0,"y":0.677},{"x":14.011,"y":0.729},{"x":14.033,"y":0.924},{"x":14.092,"y":0.924},{"x":14.121,"y":0.807},{"x":14.154,"y":0.469},{"x":14.186,"y":0.26},{"x":14.241,"y":0.161},{"x":14.329,"y":0.135},{"x":14.548,"y":0.117},{"x":14.74,"y":0.109}],
 "bLR_k": [{"x":24.0,"y":0.138},{"x":24.05,"y":0.128},{"x":24.117,"y":0.145},{"x":24.184,"y":0.158},{"x":24.242,"y":0.128},{"x":24.284,"y":0.163},{"x":24.334,"y":0.189},{"x":24.376,"y":0.286},{"x":24.41,"y":0.439},{"x":24.435,"y":0.617},{"x":24.46,"y":0.74},{"x":24.485,"y":0.75},{"x":24.518,"y":0.694},{"x":24.56,"y":0.554},{"x":24.594,"y":0.337},{"x":24.627,"y":0.235},{"x":24.66,"y":0.158},{"x":24.703,"y":0.133},{"x":24.786,"y":0.145},{"x":24.886,"y":0.145},{"x":25.0,"y":0.145}],
 "bLR_b": [{"x":24.0,"y":0.153},{"x":24.083,"y":0.153},{"x":24.15,"y":0.171},{"x":24.217,"y":0.179},{"x":24.284,"y":0.184},{"x":24.318,"y":0.214},{"x":24.351,"y":0.299},{"x":24.384,"y":0.439},{"x":24.41,"y":0.554},{"x":24.502,"y":0.554},{"x":24.527,"y":0.49},{"x":24.56,"y":0.337},{"x":24.594,"y":0.235},{"x":24.627,"y":0.184},{"x":24.686,"y":0.158},{"x":24.786,"y":0.153},{"x":25.0,"y":0.15}]
},
"vconcat": [
 {
  "width": 968, "height": 400,
  "resolve": {"scale": {"x": "independent", "y": "independent"}},
  "layer": [
   {"layer": [
    {"data": {"name": "gA_k"}, "mark": {"type": "line", "color": "#000000"},
     "encoding": {
      "x": {"field": "x", "type": "quantitative", "scale": {"domain": [12, 27], "nice": false, "zero": false},
        "axis": {"values": [12,13,14,15,16,17,18,19,20,21,22,23,24,25,26,27], "labelExpr": "datum.value % 5 == 0 && datum.value > 12 ? format(datum.value, 'd') : ''", "title": "2θ (degrees)", "tickSize": 6, "labelPadding": 10, "titlePadding": 15, "labelFontSize": 18.5, "titleFontSize": 19.5}},
      "y": {"field": "y", "type": "quantitative", "scale": {"domain": [-0.1, 2.3], "nice": false, "zero": false},
        "axis": {"values": [0,0.2,0.4,0.6,0.8,1,1.2,1.4,1.6,1.8,2,2.2], "labels": false, "tickSize": 8, "title": "Normalised 0, 1", "titleFont": "Lato", "titleFontSize": 20.5, "titlePadding": 22, "titleY": 187}}}},
    {"data": {"name": "gA_r"}, "mark": {"type": "line", "color": "#ff0000"},
     "encoding": {"x": {"field": "x", "type": "quantitative", "scale": {"domain": [12, 27], "nice": false, "zero": false}}, "y": {"field": "y", "type": "quantitative", "scale": {"domain": [-0.1, 2.3], "nice": false, "zero": false}}}},
    {"data": {"name": "gB_k"}, "mark": {"type": "line", "color": "#000000"},
     "encoding": {"x": {"field": "x", "type": "quantitative", "scale": {"domain": [12, 27], "nice": false, "zero": false}}, "y": {"field": "y", "type": "quantitative", "scale": {"domain": [-0.1, 2.3], "nice": false, "zero": false}}}},
    {"data": {"name": "gB_b"}, "mark": {"type": "line", "color": "#12a1e6"},
     "encoding": {"x": {"field": "x", "type": "quantitative", "scale": {"domain": [12, 27], "nice": false, "zero": false}}, "y": {"field": "y", "type": "quantitative", "scale": {"domain": [-0.1, 2.3], "nice": false, "zero": false}}}}
   ]},
   {"data": {"name": "gA_k"}, "mark": {"type": "point", "opacity": 0},
    "encoding": {
     "x": {"field": "x", "type": "quantitative", "scale": {"domain": [12, 27], "range": [31, 190], "nice": false, "zero": false},
       "axis": {"orient": "top", "offset": 13, "ticks": false, "labels": false, "title": "GVL-MeOH", "titleFontSize": 29, "titlePadding": 5, "titleBaseline": "alphabetic", "domainColor": "#000", "domainWidth": 2.5}},
     "y": {"field": "y", "type": "quantitative", "scale": {"domain": [-0.1, 2.3], "nice": false, "zero": false},
       "axis": {"orient": "left", "values": [0.1,0.3,0.5,0.7,0.9,1.1,1.3,1.5,1.7,1.9,2.1,2.3], "labels": false, "domain": false, "title": null, "tickSize": 4}}}},
   {"layer": [
    {"data": {"name": "gUL_k"}, "mark": {"type": "line", "color": "#000000"},
     "encoding": {
      "x": {"field": "x", "type": "quantitative", "scale": {"domain": [13.5, 14.72], "range": [195, 380], "nice": false, "zero": false},
        "axis": {"orient": "bottom", "offset": -265, "values": [13.5,13.6,13.7,13.8,13.9,14,14.1,14.2,14.3,14.4,14.5,14.6,14.7], "labelExpr": "abs(datum.value*2-round(datum.value*2))<0.001 ? format(datum.value,'~g') : ''", "tickSize": 3, "labelPadding": 3, "labelFontSize": 18, "title": null, "domainColor": "#888", "tickColor": "#888"}},
      "y": {"field": "y", "type": "quantitative", "scale": {"domain": [0, 1], "range": [135, 0], "nice": false, "zero": false},
        "axis": {"orient": "left", "offset": -195, "ticks": false, "labels": false, "title": null, "domainColor": "#888"}}}},
    {"data": {"name": "gUL_r"}, "mark": {"type": "line", "color": "#ff0000"},
     "encoding": {"x": {"field": "x", "type": "quantitative", "scale": {"domain": [13.5, 14.72], "range": [195, 380], "nice": false, "zero": false}}, "y": {"field": "y", "type": "quantitative", "scale": {"domain": [0, 1], "range": [135, 0], "nice": false, "zero": false}}}}
   ]},
   {"layer": [
    {"data": {"name": "gUR_k"}, "mark": {"type": "line", "color": "#000000"},
     "encoding": {
      "x": {"field": "x", "type": "quantitative", "scale": {"domain": [24, 25], "range": [554, 739], "nice": false, "zero": false},
        "axis": {"orient": "bottom", "offset": -277, "values": [24,24.1,24.2,24.3,24.4,24.5,24.6,24.7,24.8,24.9,25], "labelExpr": "abs(datum.value*2-round(datum.value*2))<0.001 ? format(datum.value,'~g') : ''", "tickSize": 3, "labelPadding": 3, "labelFontSize": 18, "title": null, "domainColor": "#888", "tickColor": "#888"}},
      "y": {"field": "y", "type": "quantitative", "scale": {"domain": [0, 1], "range": [123, 3], "nice": false, "zero": false},
        "axis": {"orient": "left", "offset": -554, "ticks": false, "labels": false, "title": null, "domainColor": "#222"}}}},
    {"data": {"name": "gUR_r"}, "mark": {"type": "line", "color": "#ff0000"},
     "encoding": {"x": {"field": "x", "type": "quantitative", "scale": {"domain": [24, 25], "range": [554, 739], "nice": false, "zero": false}}, "y": {"field": "y", "type": "quantitative", "scale": {"domain": [0, 1], "range": [123, 3], "nice": false, "zero": false}}}}
   ]},
   {"layer": [
    {"data": {"name": "gLL_k"}, "mark": {"type": "line", "color": "#000000"},
     "encoding": {
      "x": {"field": "x", "type": "quantitative", "scale": {"domain": [13.5, 14.76], "range": [193, 382], "nice": false, "zero": false},
        "axis": {"orient": "bottom", "offset": -72, "values": [13.5,13.6,13.7,13.8,13.9,14,14.1,14.2,14.3,14.4,14.5,14.6,14.7], "labelExpr": "abs(datum.value*2-round(datum.value*2))<0.001 ? format(datum.value,'~g') : ''", "tickSize": 3, "labelPadding": 3, "labelFontSize": 18, "title": null, "domainColor": "#333", "tickColor": "#333"}},
      "y": {"field": "y", "type": "quantitative", "scale": {"domain": [0, 1], "range": [328, 193], "nice": false, "zero": false},
        "axis": {"orient": "left", "offset": -193, "ticks": false, "labels": false, "title": null, "domainColor": "#222"}}}},
    {"data": {"name": "gLL_b"}, "mark": {"type": "line", "color": "#12a1e6"},
     "encoding": {"x": {"field": "x", "type": "quantitative", "scale": {"domain": [13.5, 14.76], "range": [193, 382], "nice": false, "zero": false}}, "y": {"field": "y", "type": "quantitative", "scale": {"domain": [0, 1], "range": [328, 193], "nice": false, "zero": false}}}}
   ]},
   {"layer": [
    {"data": {"name": "gLR_k"}, "mark": {"type": "line", "color": "#000000"},
     "encoding": {
      "x": {"field": "x", "type": "quantitative", "scale": {"domain": [24, 25], "range": [561, 749], "nice": false, "zero": false},
        "axis": {"orient": "bottom", "offset": -80, "values": [24,24.1,24.2,24.3,24.4,24.5,24.6,24.7,24.8,24.9,25], "labelExpr": "abs(datum.value*2-round(datum.value*2))<0.001 ? format(datum.value,'~g') : ''", "tickSize": 3, "labelPadding": 3, "labelFontSize": 18, "title": null, "domainColor": "#333", "tickColor": "#333"}},
      "y": {"field": "y", "type": "quantitative", "scale": {"domain": [0, 1], "range": [320, 191], "nice": false, "zero": false},
        "axis": {"orient": "left", "offset": -561, "ticks": false, "labels": false, "title": null, "domainColor": "#222"}}}},
    {"data": {"name": "gLR_b"}, "mark": {"type": "line", "color": "#12a1e6"},
     "encoding": {"x": {"field": "x", "type": "quantitative", "scale": {"domain": [24, 25], "range": [561, 749], "nice": false, "zero": false}}, "y": {"field": "y", "type": "quantitative", "scale": {"domain": [0, 1], "range": [320, 191], "nice": false, "zero": false}}}}
   ]}
  ]
 },
 {
  "width": 968, "height": 415,
  "resolve": {"scale": {"x": "independent", "y": "independent"}},
  "layer": [
   {"layer": [
    {"data": {"name": "bA_k"}, "mark": {"type": "line", "color": "#000000"},
     "encoding": {
      "x": {"field": "x", "type": "quantitative", "scale": {"domain": [12, 27], "nice": false, "zero": false},
        "axis": {"values": [12,13,14,15,16,17,18,19,20,21,22,23,24,25,26,27], "labelExpr": "datum.value % 5 == 0 && datum.value > 12 ? format(datum.value, 'd') : ''", "title": "2θ (degrees)", "tickSize": 6, "labelPadding": 10, "titlePadding": 15, "labelFontSize": 18.5, "titleFontSize": 19.5}},
      "y": {"field": "y", "type": "quantitative", "scale": {"domain": [-0.1, 2.3], "nice": false, "zero": false},
        "axis": {"values": [0,0.2,0.4,0.6,0.8,1,1.2,1.4,1.6,1.8,2,2.2], "labels": false, "tickSize": 8, "title": "Normalised 0, 1", "titleFont": "Lato", "titleFontSize": 20.5, "titlePadding": 22, "titleY": 191}}}},
    {"data": {"name": "bA_r"}, "mark": {"type": "line", "color": "#f03c3c"},
     "encoding": {"x": {"field": "x", "type": "quantitative", "scale": {"domain": [12, 27], "nice": false, "zero": false}}, "y": {"field": "y", "type": "quantitative", "scale": {"domain": [-0.1, 2.3], "nice": false, "zero": false}}}},
    {"data": {"name": "bB_k"}, "mark": {"type": "line", "color": "#000000"},
     "encoding": {"x": {"field": "x", "type": "quantitative", "scale": {"domain": [12, 27], "nice": false, "zero": false}}, "y": {"field": "y", "type": "quantitative", "scale": {"domain": [-0.1, 2.3], "nice": false, "zero": false}}}},
    {"data": {"name": "bB_b"}, "mark": {"type": "line", "color": "#12a1e6"},
     "encoding": {"x": {"field": "x", "type": "quantitative", "scale": {"domain": [12, 27], "nice": false, "zero": false}}, "y": {"field": "y", "type": "quantitative", "scale": {"domain": [-0.1, 2.3], "nice": false, "zero": false}}}}
   ]},
   {"data": {"name": "bA_k"}, "mark": {"type": "point", "opacity": 0},
    "encoding": {
     "x": {"field": "x", "type": "quantitative", "scale": {"domain": [12, 27], "range": [36, 92], "nice": false, "zero": false},
       "axis": {"orient": "top", "offset": -3, "ticks": false, "labels": false, "title": "GBL", "titleFontSize": 28, "titlePadding": 8, "titleBaseline": "alphabetic", "domainColor": "#000", "domainWidth": 2.5}},
     "y": {"field": "y", "type": "quantitative", "scale": {"domain": [-0.1, 2.3], "nice": false, "zero": false},
       "axis": {"orient": "left", "values": [0.1,0.3,0.5,0.7,0.9,1.1,1.3,1.5,1.7,1.9,2.1,2.3], "labels": false, "domain": false, "title": null, "tickSize": 4}}}},
   {"layer": [
    {"data": {"name": "bUL_k"}, "mark": {"type": "line", "color": "#000000"},
     "encoding": {
      "x": {"field": "x", "type": "quantitative", "scale": {"domain": [13.5, 14.7], "range": [197, 393], "nice": false, "zero": false},
        "axis": {"orient": "bottom", "offset": -277, "values": [13.5,13.6,13.7,13.8,13.9,14,14.1,14.2,14.3,14.4,14.5,14.6,14.7], "labelExpr": "abs(datum.value*2-round(datum.value*2))<0.001 ? format(datum.value,'~g') : ''", "tickSize": 3, "labelPadding": 3, "labelFontSize": 18, "title": null, "domainColor": "#888", "tickColor": "#888"}},
      "y": {"field": "y", "type": "quantitative", "scale": {"domain": [0, 1], "range": [138, 13], "nice": false, "zero": false},
        "axis": {"orient": "left", "offset": -197, "ticks": false, "labels": false, "title": null, "domainColor": "#888"}}}},
    {"data": {"name": "bUL_r"}, "mark": {"type": "line", "color": "#f03c3c"},
     "encoding": {"x": {"field": "x", "type": "quantitative", "scale": {"domain": [13.5, 14.7], "range": [197, 393], "nice": false, "zero": false}}, "y": {"field": "y", "type": "quantitative", "scale": {"domain": [0, 1], "range": [138, 13], "nice": false, "zero": false}}}}
   ]},
   {"layer": [
    {"data": {"name": "bUR_k"}, "mark": {"type": "line", "color": "#000000"},
     "encoding": {
      "x": {"field": "x", "type": "quantitative", "scale": {"domain": [24, 25], "range": [548, 740], "nice": false, "zero": false},
        "axis": {"orient": "bottom", "offset": -280, "values": [24,24.1,24.2,24.3,24.4,24.5,24.6,24.7,24.8,24.9,25], "labelExpr": "abs(datum.value*2-round(datum.value*2))<0.001 ? format(datum.value,'~g') : ''", "tickSize": 3, "labelPadding": 3, "labelFontSize": 18, "title": null, "domainColor": "#888", "tickColor": "#888"}},
      "y": {"field": "y", "type": "quantitative", "scale": {"domain": [0, 1], "range": [135, 11], "nice": false, "zero": false},
        "axis": {"orient": "left", "offset": -548, "ticks": false, "labels": false, "title": null, "domainColor": "#888"}}}},
    {"data": {"name": "bUR_r"}, "mark": {"type": "line", "color": "#f03c3c"},
     "encoding": {"x": {"field": "x", "type": "quantitative", "scale": {"domain": [24, 25], "range": [548, 740], "nice": false, "zero": false}}, "y": {"field": "y", "type": "quantitative", "scale": {"domain": [0, 1], "range": [135, 11], "nice": false, "zero": false}}}}
   ]},
   {"layer": [
    {"data": {"name": "bLL_k"}, "mark": {"type": "line", "color": "#000000"},
     "encoding": {
      "x": {"field": "x", "type": "quantitative", "scale": {"domain": [13.5, 14.74], "range": [199, 388], "nice": false, "zero": false},
        "axis": {"orient": "bottom", "offset": -74, "values": [13.5,13.6,13.7,13.8,13.9,14,14.1,14.2,14.3,14.4,14.5,14.6,14.7], "labelExpr": "abs(datum.value*2-round(datum.value*2))<0.001 ? format(datum.value,'~g') : ''", "tickSize": 3, "labelPadding": 3, "labelFontSize": 18, "title": null, "domainColor": "#333", "tickColor": "#333"}},
      "y": {"field": "y", "type": "quantitative", "scale": {"domain": [0, 1], "range": [341, 213], "nice": false, "zero": false},
        "axis": {"orient": "left", "offset": -199, "ticks": false, "labels": false, "title": null, "domainColor": "#222"}}}},
    {"data": {"name": "bLL_b"}, "mark": {"type": "line", "color": "#12a1e6"},
     "encoding": {"x": {"field": "x", "type": "quantitative", "scale": {"domain": [13.5, 14.74], "range": [199, 388], "nice": false, "zero": false}}, "y": {"field": "y", "type": "quantitative", "scale": {"domain": [0, 1], "range": [341, 213], "nice": false, "zero": false}}}}
   ]},
   {"layer": [
    {"data": {"name": "bLR_k"}, "mark": {"type": "line", "color": "#000000"},
     "encoding": {
      "x": {"field": "x", "type": "quantitative", "scale": {"domain": [24, 25], "range": [552, 751], "nice": false, "zero": false},
        "axis": {"orient": "bottom", "offset": -76, "values": [24,24.1,24.2,24.3,24.4,24.5,24.6,24.7,24.8,24.9,25], "labelExpr": "abs(datum.value*2-round(datum.value*2))<0.001 ? format(datum.value,'~g') : ''", "tickSize": 3, "labelPadding": 3, "labelFontSize": 18, "title": null, "domainColor": "#333", "tickColor": "#333"}},
      "y": {"field": "y", "type": "quantitative", "scale": {"domain": [0, 1], "range": [339, 208], "nice": false, "zero": false},
        "axis": {"orient": "left", "offset": -552, "ticks": false, "labels": false, "title": null, "domainColor": "#222"}}}},
    {"data": {"name": "bLR_b"}, "mark": {"type": "line", "color": "#12a1e6"},
     "encoding": {"x": {"field": "x", "type": "quantitative", "scale": {"domain": [24, 25], "range": [552, 751], "nice": false, "zero": false}}, "y": {"field": "y", "type": "quantitative", "scale": {"domain": [0, 1], "range": [339, 208], "nice": false, "zero": false}}}}
   ]}
  ]
 }
]
}
